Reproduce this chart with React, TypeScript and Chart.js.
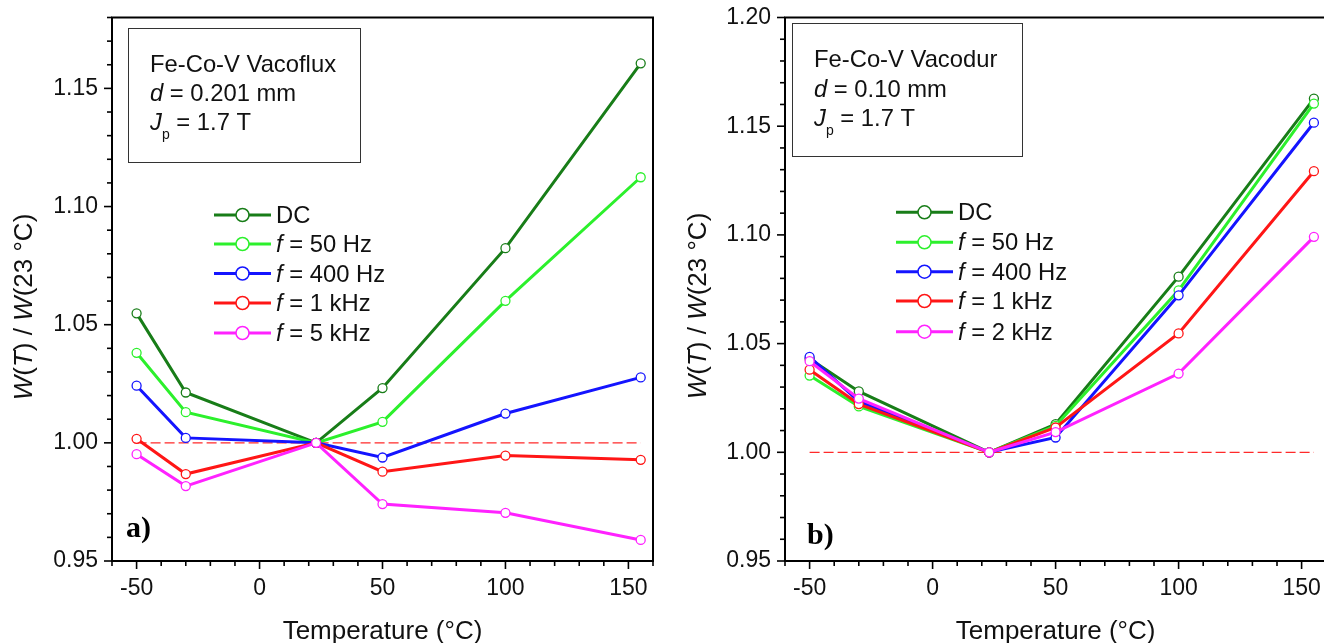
import React, { useEffect, useRef } from "react";
import { Chart, registerables } from "chart.js";

Chart.register(...registerables);

// ---------- data ----------
const temps = [-50, -30, 23, 50, 100, 155];

const aLabels = ["DC", "f = 50 Hz", "f = 400 Hz", "f = 1 kHz", "f = 5 kHz"];
const aDC = [1.0548, 1.0213, 1.0, 1.0232, 1.0824, 1.1606];
const a50 = [1.0381, 1.013, 1.0, 1.0089, 1.0601, 1.1124];
const a400 = [1.0242, 1.0021, 1.0, 0.9938, 1.0124, 1.0277];
const a1k = [1.0017, 0.9868, 1.0, 0.9878, 0.9946, 0.9928];
const a5k = [0.9952, 0.9817, 1.0, 0.9741, 0.9704, 0.9589];

const bLabels = ["DC", "f = 50 Hz", "f = 400 Hz", "f = 1 kHz", "f = 2 kHz"];
const bDC = [1.043, 1.028, 1.0, 1.013, 1.0808, 1.1627];
const b50 = [1.0353, 1.0211, 1.0, 1.0122, 1.0745, 1.1604];
const b400 = [1.0439, 1.0234, 1.0, 1.0068, 1.0722, 1.1516];
const b1k = [1.038, 1.0222, 1.0, 1.0114, 1.0547, 1.1293];
const b2k = [1.0419, 1.0247, 1.0, 1.0093, 1.0362, 1.0991];

const refX = [-50, 155];
const refY = [1.0, 1.0];

const xTickValues = [-50, 0, 50, 100, 150];
const aYRange = [0.95, 1.18];
const bYRange = [0.95, 1.2];
const xRange = [-60, 160];

const aInfo = ["Fe-Co-V Vacoflux", "0.201 mm", "1.7 T"];
const bInfo = ["Fe-Co-V Vacodur", "0.10 mm", "1.7 T"];

const seriesColors = ["#187d18", "#2cf02c", "#1414ff", "#ff1616", "#ff22ff"];

// ---------- helpers ----------
const SANS = '"Liberation Sans", Arial, sans-serif';
const SERIF = '"Liberation Serif", "Times New Roman", serif';

type Seg = { t: string; italic?: boolean; size?: number; dy?: number };

function measureRich(ctx: CanvasRenderingContext2D, segs: Seg[], base: number) {
  let w = 0;
  for (const s of segs) {
    ctx.font = `${s.italic ? "italic " : ""}${s.size ?? base}px ${SANS}`;
    w += ctx.measureText(s.t).width;
  }
  return w;
}

function drawRich(ctx: CanvasRenderingContext2D, segs: Seg[], x: number, y: number, base: number) {
  let cx = x;
  for (const s of segs) {
    ctx.font = `${s.italic ? "italic " : ""}${s.size ?? base}px ${SANS}`;
    ctx.fillText(s.t, cx, y + (s.dy ?? 0));
    cx += ctx.measureText(s.t).width;
  }
  return cx;
}

function labelSegs(label: string): Seg[] {
  if (label.startsWith("f ")) return [{ t: "f", italic: true }, { t: label.slice(1) }];
  return [{ t: label }];
}

type Layout = {
  yAxisWidth: number;
  padRight: number;
  box: [number, number, number, number];
  textX: number;
  baselines: number[];
  legendX: number;
  legendYs: number[];
  letter: string;
  letterPos: [number, number];
  yTitleX: number;
  yTitleY: number;
};

function makeChart(
  canvas: HTMLCanvasElement,
  series: number[][],
  labels: string[],
  yRange: number[],
  info: string[],
  L: Layout
) {
  const datasets: any[] = series.map((vals, i) => ({
    label: labels[i],
    data: temps.map((t, j) => ({ x: t, y: vals[j] })),
    borderColor: seriesColors[i],
    backgroundColor: "#ffffff",
    borderWidth: 3,
    pointRadius: 4.5,
    pointBorderWidth: 1.3,
    pointBackgroundColor: "#ffffff",
    pointBorderColor: seriesColors[i],
    tension: 0,
    order: 10 - i,
  }));
  datasets.push({
    label: "ref",
    data: refX.map((x, j) => ({ x, y: refY[j] })),
    borderColor: "#ff2a2a",
    borderWidth: 1.3,
    borderDash: [10, 4],
    pointRadius: 0,
    order: 20,
  });

  const yMajor: number[] = [];
  for (let v = yRange[0]; v <= yRange[1] + 1e-9; v += 0.05) yMajor.push(Math.round(v * 100) / 100);

  const deco = {
    id: "deco",
    afterDraw(chart: any) {
      const ctx: CanvasRenderingContext2D = chart.ctx;
      const a = chart.chartArea;
      const xs = chart.scales.x;
      const ys = chart.scales.y;
      ctx.save();
      // frame
      ctx.strokeStyle = "#000";
      ctx.lineWidth = 2;
      ctx.strokeRect(a.left, a.top, a.right - a.left, a.bottom - a.top);
      // x ticks
      ctx.lineWidth = 1.6;
      for (let v = xRange[0]; v <= xRange[1] + 1e-9; v += 10) {
        const px = xs.getPixelForValue(v);
        const major = xTickValues.includes(v);
        ctx.beginPath();
        ctx.moveTo(px, a.bottom);
        ctx.lineTo(px, a.bottom + (major ? 8 : 5));
        ctx.stroke();
      }
      // y ticks
      const n = Math.round((yRange[1] - yRange[0]) / 0.01);
      for (let k = 0; k <= n; k++) {
        const v = yRange[0] + k * 0.01;
        const py = ys.getPixelForValue(v);
        const major = k % 5 === 0;
        ctx.beginPath();
        ctx.moveTo(a.left, py);
        ctx.lineTo(a.left - (major ? 8 : 5), py);
        ctx.stroke();
      }
      ctx.fillStyle = "#111";
      ctx.textBaseline = "alphabetic";
      ctx.textAlign = "left";
      // x title
      const xt: Seg[] = [{ t: "Temperature (°C)" }];
      const xw = measureRich(ctx, xt, 26);
      drawRich(ctx, xt, (a.left + a.right) / 2 - xw / 2, 639, 26);
      // y title
      const yt: Seg[] = [
        { t: "W", italic: true },
        { t: "(" },
        { t: "T", italic: true },
        { t: ") / " },
        { t: "W", italic: true },
        { t: "(23 °C)" },
      ];
      ctx.save();
      ctx.translate(L.yTitleX, L.yTitleY);
      ctx.rotate(-Math.PI / 2);
      const yw = measureRich(ctx, yt, 26);
      drawRich(ctx, yt, -yw / 2, 0, 26);
      ctx.restore();
      // info box
      ctx.strokeStyle = "#333";
      ctx.lineWidth = 1;
      ctx.strokeRect(L.box[0] + 0.5, L.box[1] + 0.5, L.box[2], L.box[3]);
      drawRich(ctx, [{ t: info[0] }], L.textX, L.baselines[0], 23.8);
      drawRich(ctx, [{ t: "d", italic: true }, { t: " = " + info[1] }], L.textX, L.baselines[1], 23.8);
      drawRich(
        ctx,
        [{ t: "J", italic: true }, { t: "p", size: 14, dy: 9 }, { t: " = " + info[2] }],
        L.textX,
        L.baselines[2],
        23.8
      );
      // legend
      labels.forEach((lab, i) => {
        const y = L.legendYs[i];
        ctx.strokeStyle = seriesColors[i];
        ctx.lineWidth = 3;
        ctx.beginPath();
        ctx.moveTo(L.legendX, y);
        ctx.lineTo(L.legendX + 57, y);
        ctx.stroke();
        ctx.beginPath();
        ctx.arc(L.legendX + 28.5, y, 6.5, 0, Math.PI * 2);
        ctx.fillStyle = "#fff";
        ctx.fill();
        ctx.lineWidth = 1.5;
        ctx.stroke();
        ctx.fillStyle = "#111";
        drawRich(ctx, labelSegs(lab), L.legendX + 62, y + 8, 23.8);
      });
      // panel letter
      ctx.font = `bold 30px ${SERIF}`;
      ctx.fillStyle = "#000";
      ctx.fillText(L.letter, L.letterPos[0], L.letterPos[1]);
      ctx.restore();
    },
  };

  const tickFont = { family: SANS, size: 23 };
  return new Chart(canvas, {
    type: "line",
    data: { datasets },
    options: {
      responsive: false,
      animation: false,
      devicePixelRatio: 1,
      layout: { padding: { top: 17.5, right: L.padRight, left: 0, bottom: 0 } },
      plugins: { legend: { display: false }, tooltip: { enabled: false } },
      scales: {
        x: {
          type: "linear",
          min: xRange[0],
          max: xRange[1],
          grid: { display: false, drawTicks: false },
          border: { display: false },
          ticks: {
            autoSkip: false,
            maxRotation: 0,
            padding: 14,
            color: "#111",
            font: tickFont,
            callback: (v: any) => String(v),
          },
          afterBuildTicks: (s: any) => {
            s.ticks = xTickValues.map((v) => ({ value: v }));
          },
          afterFit: (s: any) => {
            s.height = 82;
            s.paddingLeft = 0;
            s.paddingRight = 0;
          },
        },
        y: {
          type: "linear",
          min: yRange[0],
          max: yRange[1],
          grid: { display: false, drawTicks: false },
          border: { display: false },
          ticks: {
            autoSkip: false,
            padding: 14,
            color: "#111",
            font: tickFont,
            callback: (v: any) => Number(v).toFixed(2),
          },
          afterBuildTicks: (s: any) => {
            s.ticks = yMajor.map((v) => ({ value: v }));
          },
          afterFit: (s: any) => {
            s.width = L.yAxisWidth;
            s.paddingTop = 0;
            s.paddingBottom = 0;
          },
        },
      },
    },
    plugins: [deco],
  } as any);
}

export default function App() {
  const refA = useRef<HTMLCanvasElement>(null);
  const refB = useRef<HTMLCanvasElement>(null);

  useEffect(() => {
    const ca = makeChart(
      refA.current!,
      [aDC, a50, a400, a1k, a5k],
      aLabels,
      aYRange,
      aInfo,
      {
        yAxisWidth: 112,
        padRight: 9,
        box: [128, 28, 232, 134],
        textX: 150,
        baselines: [72, 101, 130],
        legendX: 214,
        legendYs: [215, 244, 273.5, 303, 333],
        letter: "a)",
        letterPos: [126, 537],
        yTitleX: 31.5,
        yTitleY: 307,
      }
    );
    const cb = makeChart(
      refB.current!,
      [bDC, b50, b400, b1k, b2k],
      bLabels,
      bYRange,
      bInfo,
      {
        yAxisWidth: 123,
        padRight: 4,
        box: [130, 23, 230, 133],
        textX: 152,
        baselines: [67, 97, 126],
        legendX: 234,
        legendYs: [212.3, 242.3, 271.7, 301, 331.7],
        letter: "b)",
        letterPos: [145, 544],
        yTitleX: 44,
        yTitleY: 306,
      }
    );
    return () => {
      ca.destroy();
      cb.destroy();
    };
  }, []);

  return (
    <div
      style={{
        position: "fixed",
        left: 0,
        top: 0,
        width: 1324,
        height: 643,
        overflow: "hidden",
        background: "#fff",
      }}
    >
      <canvas ref={refA} width={662} height={643} style={{ position: "absolute", left: 0, top: 0 }} />
      <canvas ref={refB} width={670} height={643} style={{ position: "absolute", left: 662, top: 0 }} />
    </div>
  );
}
